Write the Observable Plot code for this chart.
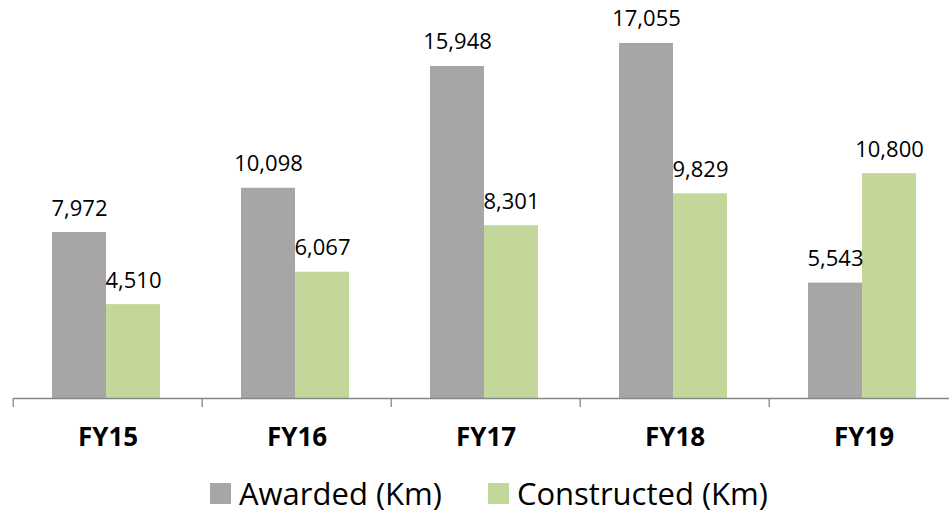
<!DOCTYPE html>
<html>
<head>
<meta charset="utf-8">
<script src="https://cdn.jsdelivr.net/npm/d3@7"></script>
<script src="https://cdn.jsdelivr.net/npm/@observablehq/plot@0.6"></script>
<style>
  html, body { margin: 0; padding: 0; background: #fff; }
  body { width: 949px; height: 516px; overflow: hidden; font-family: "Open Sans", sans-serif; }
  #legend { height: 46px; display: flex; align-items: center; padding-left: 210px; box-sizing: border-box; }
  .item { display: flex; align-items: center; margin-right: 46px; }
  .sw { width: 21px; height: 21px; margin-right: 8px; }
  .lab { font-size: 31px; line-height: 1; color: #000; }
</style>
</head>
<body>
<div id="chart"></div>
<div id="legend"></div>
<script>
const categories = ["FY15", "FY16", "FY17", "FY18", "FY19"];
const series = ["Awarded (Km)", "Constructed (Km)"];
const awarded = [7972, 10098, 15948, 17055, 5543];
const constructed = [4510, 6067, 8301, 9829, 10800];
const colors = ["#a6a6a6", "#c4d79b"];

const data = [];
categories.forEach((c, i) => {
  data.push({cat: c, series: series[0], value: awarded[i]});
  data.push({cat: c, series: series[1], value: constructed[i]});
});

const W = 949, H = 470;
const fxRange = [11, 959];
const step = (fxRange[1] - fxRange[0]) / categories.length;
const fmt = d3.format(",");

const chart = Plot.plot({
  width: W,
  height: H,
  marginTop: 0,
  marginBottom: 72,
  marginLeft: 11,
  marginRight: 0,
  style: {fontFamily: "Open Sans, sans-serif", background: "#fff", overflow: "visible"},
  fx: {domain: categories, range: fxRange, padding: 0, paddingInner: 0, paddingOuter: 0, label: null, axis: null},
  x: {domain: series, paddingInner: 0, paddingOuter: 0.74, axis: null},
  y: {domain: [0, 19117], axis: null},
  color: {domain: series, range: colors},
  marks: [
    Plot.barY(data, {fx: "cat", x: "series", y: "value", fill: "series", dx: -2}),
    Plot.text(data, {fx: "cat", x: "series", y: "value", text: d => fmt(d.value), lineAnchor: "bottom", dy: -17, dx: -2, fontSize: 22, fill: "#000"}),
    Plot.ruleY([0], {stroke: "#878787", strokeWidth: 1.3}),
    Plot.axisFx({anchor: "bottom", text: null, tickSize: 9, dx: -step / 2, stroke: "#878787", strokeWidth: 1.3}),
    Plot.axisFx({anchor: "bottom", tickSize: 0, tickPadding: 29, fontSize: 26, fontWeight: "bold", fill: "#000", label: null})
  ]
});
document.getElementById("chart").appendChild(chart);

const legend = document.getElementById("legend");
series.forEach((s, i) => {
  const item = document.createElement("div");
  item.className = "item";
  const sw = document.createElement("div");
  sw.className = "sw";
  sw.style.background = colors[i];
  const lab = document.createElement("span");
  lab.className = "lab";
  lab.textContent = s;
  item.appendChild(sw);
  item.appendChild(lab);
  legend.appendChild(item);
});
</script>
</body>
</html>
